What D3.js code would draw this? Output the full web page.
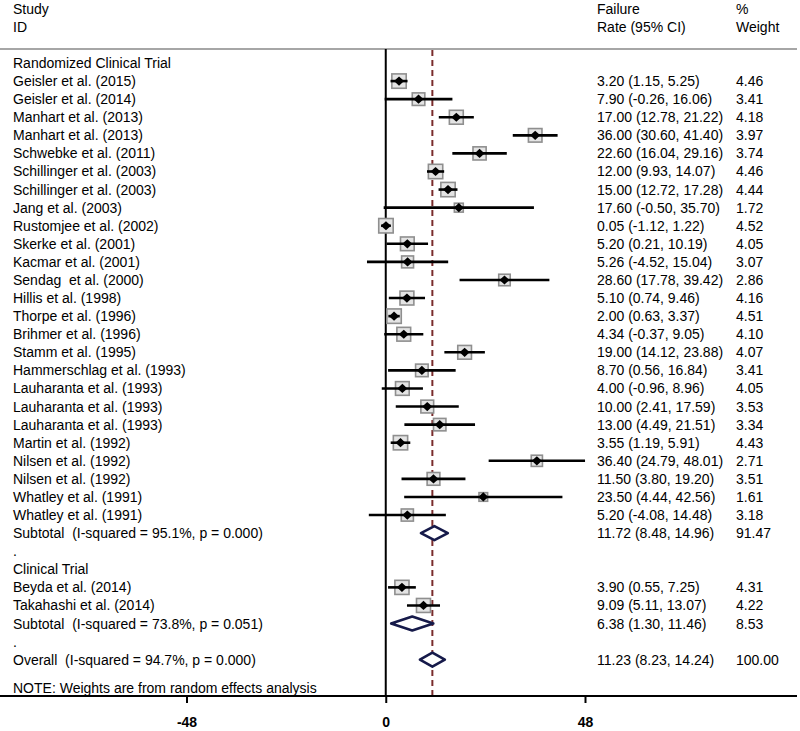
<!DOCTYPE html>
<html>
<head>
<meta charset="utf-8">
<script src="https://cdn.jsdelivr.net/npm/d3@7/dist/d3.min.js"></script>
<style>
  html, body { margin: 0; padding: 0; background: #fff; }
  svg { display: block; }
  text { font-family: "Liberation Sans", Arial, sans-serif; font-size: 14px; fill: #000; white-space: pre; }
</style>
</head>
<body>
<svg id="chart" width="800" height="731"></svg>
<script>
// ---------------- DATA ----------------
const studyNames = [
  "Geisler et al. (2015)", "Geisler et al. (2014)", "Manhart et al. (2013)", "Manhart et al. (2013)",
  "Schwebke et al. (2011)", "Schillinger et al. (2003)", "Schillinger et al. (2003)", "Jang et al. (2003)",
  "Rustomjee et al. (2002)", "Skerke et al. (2001)", "Kacmar et al. (2001)", "Sendag  et al. (2000)",
  "Hillis et al. (1998)", "Thorpe et al. (1996)", "Brihmer et al. (1996)", "Stamm et al. (1995)",
  "Hammerschlag et al. (1993)", "Lauharanta et al. (1993)", "Lauharanta et al. (1993)", "Lauharanta et al. (1993)",
  "Martin et al. (1992)", "Nilsen et al. (1992)", "Nilsen et al. (1992)", "Whatley et al. (1991)",
  "Whatley et al. (1991)", "Beyda et al. (2014)", "Takahashi et al. (2014)"
];
const studyGroup = [0,0,0,0,0,0,0,0,0,0,0,0,0,0,0,0,0,0,0,0,0,0,0,0,0,1,1];
const rate  = [3.20, 7.90, 17.00, 36.00, 22.60, 12.00, 15.00, 17.60, 0.05, 5.20, 5.26, 28.60, 5.10, 2.00, 4.34, 19.00, 8.70, 4.00, 10.00, 13.00, 3.55, 36.40, 11.50, 23.50, 5.20, 3.90, 9.09];
const lower = [1.15, -0.26, 12.78, 30.60, 16.04, 9.93, 12.72, -0.50, -1.12, 0.21, -4.52, 17.78, 0.74, 0.63, -0.37, 14.12, 0.56, -0.96, 2.41, 4.49, 1.19, 24.79, 3.80, 4.44, -4.08, 0.55, 5.11];
const upper = [5.25, 16.06, 21.22, 41.40, 29.16, 14.07, 17.28, 35.70, 1.22, 10.19, 15.04, 39.42, 9.46, 3.37, 9.05, 23.88, 16.84, 8.96, 17.59, 21.51, 5.91, 48.01, 19.20, 42.56, 14.48, 7.25, 13.07];
const weight = [4.46, 3.41, 4.18, 3.97, 3.74, 4.46, 4.44, 1.72, 4.52, 4.05, 3.07, 2.86, 4.16, 4.51, 4.10, 4.07, 3.41, 4.05, 3.53, 3.34, 4.43, 2.71, 3.51, 1.61, 3.18, 4.31, 4.22];

const groupNames = ["Randomized Clinical Trial", "Clinical Trial"];
const subtotalLabels = ["Subtotal  (I-squared = 95.1%, p = 0.000)", "Subtotal  (I-squared = 73.8%, p = 0.051)"];
const subRate   = [11.72, 6.38];
const subLower  = [8.48, 1.30];
const subUpper  = [14.96, 11.46];
const subWeight = [91.47, 8.53];

const overallLabel = "Overall  (I-squared = 94.7%, p = 0.000)";
const overallRate = 11.23, overallLower = 8.23, overallUpper = 14.24, overallWeight = 100.00;

const tickValues = [-48, 0, 48];
const noteText = "NOTE: Weights are from random effects analysis";

// ---------------- LAYOUT ----------------
const svg = d3.select("#chart");
const locale = d3.formatLocale({decimal: ".", thousands: ",", grouping: [3], currency: ["", ""], minus: "-"});
const fmt = locale.format(".2f");
const fmtInt = locale.format("d");
const ciText = (e, l, u) => `${fmt(e)} (${fmt(l)}, ${fmt(u)})`;

// build rows
const rows = [];
groupNames.forEach((g, gi) => {
  rows.push({type: "header", label: g});
  studyNames.forEach((n, i) => {
    if (studyGroup[i] === gi) rows.push({type: "study", label: n, est: rate[i], lo: lower[i], hi: upper[i], w: weight[i]});
  });
  rows.push({type: "subtotal", label: subtotalLabels[gi], est: subRate[gi], lo: subLower[gi], hi: subUpper[gi], w: subWeight[gi]});
  rows.push({type: "dot", label: "."});
});
rows.push({type: "subtotal", label: overallLabel, est: overallRate, lo: overallLower, hi: overallUpper, w: overallWeight});

const x = d3.scaleLinear().domain([-48, 48]).range([186.5, 585]);
const y = d3.scaleLinear().domain([0, rows.length - 1]).range([63, 659.7]);

const ruleY = 49, axisY = 696;
const colLeft = 13, colCI = 597, colW = 736;

// header
const hdr = svg.append("g");
[["Study", colLeft, 9], ["ID", colLeft, 27], ["Failure", colCI, 9], ["Rate (95% CI)", colCI, 27], ["%", colW, 9], ["Weight", colW, 27]]
  .forEach(([t, xx, yy]) => hdr.append("text").attr("x", xx).attr("y", yy).attr("dominant-baseline", "central").text(t));

svg.append("line").attr("x1", 0).attr("x2", 797).attr("y1", ruleY).attr("y2", ruleY)
  .attr("stroke", "#a6a6a6").attr("stroke-width", 2);

// zero line
svg.append("line").attr("x1", x(0)).attr("x2", x(0)).attr("y1", ruleY).attr("y2", axisY)
  .attr("stroke", "#000").attr("stroke-width", 2);

// overall dashed line
svg.append("line").attr("x1", x(overallRate)).attr("x2", x(overallRate)).attr("y1", ruleY + 1).attr("y2", axisY)
  .attr("stroke", "#7a2c2c").attr("stroke-width", 2).attr("stroke-dasharray", "6,4");

// row texts
const rowG = svg.append("g");
rows.forEach((r, i) => {
  const yy = y(i);
  rowG.append("text").attr("x", colLeft).attr("y", yy).attr("dominant-baseline", "central").text(r.label);
  if (r.type === "study" || r.type === "subtotal") {
    rowG.append("text").attr("x", colCI).attr("y", yy).attr("dominant-baseline", "central").text(ciText(r.est, r.lo, r.hi));
    rowG.append("text").attr("x", colW).attr("y", yy).attr("dominant-baseline", "central").text(fmt(r.w));
  }
});

// study marks
const studies = rows.map((r, i) => Object.assign({row: i}, r)).filter(r => r.type === "study");
const boxSide = w => 6.8 * Math.sqrt(w);
const marks = svg.append("g");
marks.selectAll("rect.box").data(studies).join("rect")
  .attr("class", "box")
  .attr("x", d => x(d.est) - boxSide(d.w) / 2)
  .attr("y", d => y(d.row) - boxSide(d.w) / 2)
  .attr("width", d => boxSide(d.w)).attr("height", d => boxSide(d.w))
  .attr("fill", "#e4e4e4").attr("stroke", "#8f8f8f").attr("stroke-width", 1.6);
marks.selectAll("line.ci").data(studies).join("line")
  .attr("class", "ci")
  .attr("x1", d => x(d.lo)).attr("x2", d => x(d.hi))
  .attr("y1", d => y(d.row)).attr("y2", d => y(d.row))
  .attr("stroke", "#000").attr("stroke-width", 2.6);
marks.selectAll("path.pt").data(studies).join("path")
  .attr("class", "pt")
  .attr("d", d => {
    const cx = x(d.est), cy = y(d.row), a = 5, b = 4.6;
    return `M${cx - a},${cy}L${cx},${cy - b}L${cx + a},${cy}L${cx},${cy + b}Z`;
  })
  .attr("fill", "#000");

// pooled diamonds
const pooled = rows.map((r, i) => Object.assign({row: i}, r)).filter(r => r.type === "subtotal");
marks.selectAll("path.diamond").data(pooled).join("path")
  .attr("class", "diamond")
  .attr("d", d => {
    const cy = y(d.row), h = 7;
    return `M${x(d.lo)},${cy}L${x(d.est)},${cy - h}L${x(d.hi)},${cy}L${x(d.est)},${cy + h}Z`;
  })
  .attr("fill", "#fff").attr("stroke", "#161a4a").attr("stroke-width", 2.6).attr("stroke-linejoin", "round");

// note
svg.append("text").attr("x", colLeft).attr("y", 688).attr("dominant-baseline", "central").text(noteText);

// axis
svg.append("line").attr("x1", 0).attr("x2", 797).attr("y1", axisY).attr("y2", axisY)
  .attr("stroke", "#000").attr("stroke-width", 2);
const axisG = svg.append("g").attr("transform", `translate(0,${axisY})`)
  .call(d3.axisBottom(x).tickValues(tickValues).tickFormat(fmtInt).tickSize(7).tickPadding(14));
axisG.select(".domain").remove();
axisG.selectAll(".tick line").attr("stroke", "#000").attr("stroke-width", 2);
axisG.selectAll(".tick text").attr("font-size", 14).attr("font-weight", "bold")
  .attr("font-family", "Liberation Sans, Arial, sans-serif").attr("fill", "#000");
</script>
</body>
</html>
